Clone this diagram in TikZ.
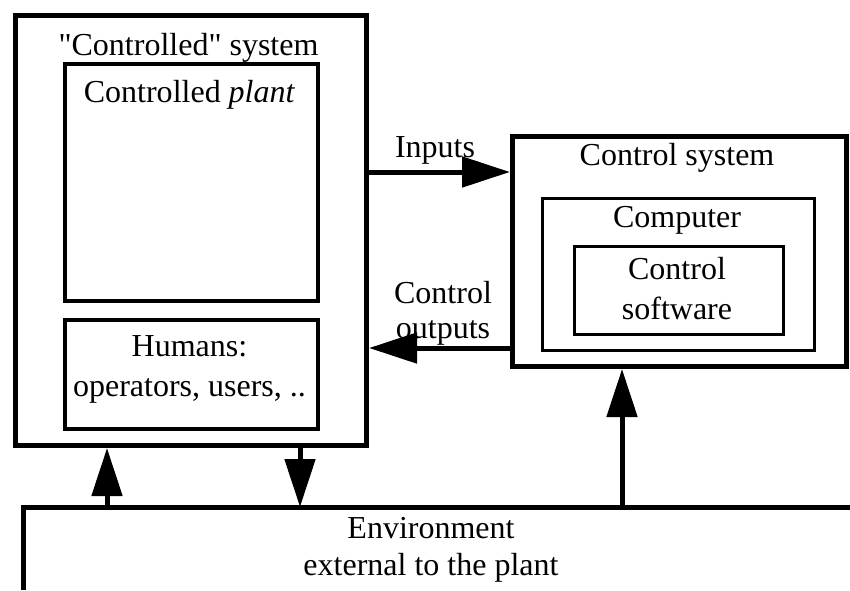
\documentclass[tikz,border=0pt]{standalone}
\usepackage{fontspec}
\setmainfont{Liberation Serif}[Ligatures=TeXOff]
\usetikzlibrary{arrows.meta,positioning}

\tikzset{
  sysbox/.style={draw,line width=2.5pt,anchor=north west,inner sep=0pt},
  partbox/.style={draw,line width=2.2pt,anchor=north west,inner sep=0pt},
  compbox/.style={draw,line width=1.5pt,anchor=north west,inner sep=0pt},
  txt/.style={align=center,inner sep=0pt,yshift=-1.5pt},
  flow/.style={line width=2.5pt,-{Triangle[length=24pt,width=15pt]}}
}

\begin{document}
\begin{tikzpicture}[x=0.5pt,y=-0.5pt,font=\fontsize{16}{20}\selectfont]
\useasboundingbox (0,0) rectangle (850,590);

% "Controlled" system
\node[sysbox,minimum width=175.5pt,minimum height=215pt] (ctrlsys) at (13,13) {};
\node[txt] (ctrlsysT) at (188.5,45) {"Controlled" system};
\node[partbox,minimum width=126.5pt,minimum height=118.5pt] (plant) at (63,62) {};
\node[txt] (plantT) at (189.5,92) {Controlled \textit{plant}};
\node[partbox,minimum width=126.5pt,minimum height=54.5pt] (humans) at (63,318) {};
\node[txt] (humansT) at (189.5,366) {Humans:\\operators, users, ..};

% Control system
\node[sysbox,minimum width=167pt,minimum height=115pt] (consys) at (510,134) {};
\node[txt] (consysT) at (677,155) {Control system};
\node[compbox,minimum width=136pt,minimum height=76pt] (comp) at (541,197) {};
\node[txt] (compT) at (677,217) {Computer};
\node[compbox,minimum width=104.5pt,minimum height=44pt] (soft) at (573,245) {};
\node[txt] (softT) at (677,286) {Control\\software};

% Environment
\coordinate (envL) at (23,590);
\coordinate (envC) at (23,507);
\coordinate (envR) at (850,507);
\draw[line width=2.5pt] (envL) -- (envC) -- (envR);
\node[txt] (envT) at (431,547) {Environment\\[-1.5pt]external to the plant};

% Inputs / outputs
\coordinate (inp) at (0,172);
\coordinate (outp) at (0,348);
\draw[flow] (inp -| ctrlsys.east) -- (inp -| consys.west);
\node[txt] (inpT) at (435,147) {Inputs};
\draw[flow] (outp -| consys.west) -- (outp -| ctrlsys.east);
\node[txt] (outpT) at (443,310) {Control\\[-2.5pt]outputs};

% to and from the environment
\coordinate (up1) at (107,507);
\coordinate (down1) at (300,507);
\coordinate (up2) at (622,507);
\draw[flow] (up1) -- (up1 |- ctrlsys.south);
\draw[flow] (down1 |- ctrlsys.south) -- (down1);
\draw[flow] (up2) -- (up2 |- consys.south);
\end{tikzpicture}
\end{document}
